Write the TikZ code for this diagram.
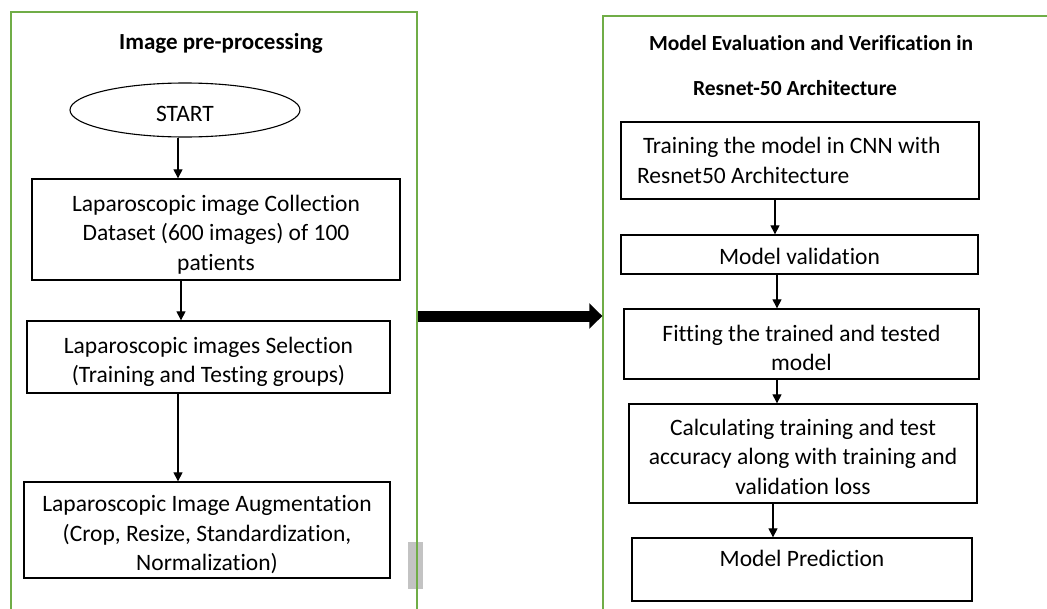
\documentclass[tikz,border=0pt]{standalone}
\usepackage{fontspec}
\setmainfont[Ligatures={NoCommon}]{Carlito}
\usetikzlibrary{arrows.meta,shapes.geometric}
\definecolor{panelgreen}{RGB}{112,173,71}
\definecolor{markgray}{RGB}{195,195,195}
% invisible strut that makes a first line taller, so the text sits a little lower
\newcommand{\dropby}[1]{\rule{0pt}{#1}}
\begin{document}
\begin{tikzpicture}[x=1pt,y=-1pt,
  panel/.style={draw=panelgreen,line width=1.4pt,rectangle,inner sep=0pt},
  titletext/.style={font=\fontsize{21.5}{24}\selectfont\bfseries,inner sep=0pt},
  stepbox/.style={draw=black,line width=1.3pt,rectangle,inner sep=0pt,align=center,
    font=\fontsize{23.5}{29.5}\selectfont},
  startnode/.style={draw=black,line width=1.1pt,ellipse,inner sep=0pt,
    minimum width=230pt,minimum height=54pt,font=\fontsize{23.5}{26}\selectfont},
  arr/.style={draw=black,line width=1.1pt,-{Triangle[width=9pt,length=9pt]}},
  bigarr/.style={draw=black,line width=11pt,-{Triangle[width=25pt,length=13pt]}}
]
\useasboundingbox (0,0) rectangle (1047,608);

% grey marker next to the left panel
\fill[markgray] (408,542) rectangle (423,589);

% the two panels
\node[panel,minimum width=406pt,minimum height=608pt] (leftpanel) at (214,316) {};
\node[panel,minimum width=457pt,minimum height=604pt] (rightpanel) at (831.5,318) {};

% left panel: image pre-processing
\node[titletext,font=\fontsize{23}{26}\selectfont\bfseries] (ltitle) at (221,43) {Image pre-processing};
\node[startnode] (start) at (185,110) {\dropby{23pt}START};
\node[stepbox,minimum width=368pt,minimum height=101pt] (collect) at (216,229.5)
  {\dropby{26pt}Laparoscopic image Collection\\Dataset (600 images) of 100\\patients};
\node[stepbox,minimum width=363pt,minimum height=72pt] (select) at (208.5,357)
  {\dropby{26pt}Laparoscopic images Selection\\(Training and Testing groups)};
\node[stepbox,minimum width=366pt,minimum height=96pt] (augment) at (207,530)
  {\dropby{26pt}Laparoscopic Image Augmentation\\(Crop, Resize, Standardization,\\Normalization)};

\coordinate (xa) at (178,0);
\coordinate (xb) at (181,0);
\draw[arr] (start.south -| xa) -- (collect.north -| xa);
\draw[arr] (collect.south -| xb) -- (select.north -| xb);
\draw[arr] (select.south -| xa) -- (augment.north -| xa);

% right panel: evaluation in ResNet-50
\node[titletext] (rtitle1) at (811,43) {Model Evaluation and Verification in};
\node[titletext] (rtitle2) at (795,88) {Resnet-50 Architecture};
\node[stepbox,minimum width=358pt,minimum height=77pt,align=flush left,text width=326pt]
  (train) at (800,160.5)
  {\hspace{6pt}Training the model in CNN with\\Resnet50 Architecture};
\node[stepbox,minimum width=357pt,minimum height=39pt,text height=24pt,text depth=5pt]
  (valid) at (799.5,254.5) {Model validation};
\node[stepbox,minimum width=355pt,minimum height=70pt] (fit) at (801.5,344)
  {\dropby{24pt}Fitting the trained and tested\\model};
\node[stepbox,minimum width=348pt,minimum height=99pt] (calc) at (803,453.5)
  {\dropby{23pt}Calculating training and test\\accuracy along with training and\\validation loss};
\node[stepbox,minimum width=340pt,minimum height=63pt,text height=17pt,text depth=23pt]
  (predict) at (802,569.5) {Model Prediction};

\coordinate (xc) at (775,0);
\coordinate (xd) at (777,0);
\coordinate (xe) at (773,0);
\draw[arr] (train.south -| xc) -- (valid.north -| xc);
\draw[arr] (valid.south -| xd) -- (fit.north -| xd);
\draw[arr] (fit.south -| xd) -- (calc.north -| xd);
\draw[arr] (calc.south -| xe) -- (predict.north -| xe);

% hand-over between the two stages
\draw[bigarr] (leftpanel.east) -- (leftpanel.east -| rightpanel.west);
\end{tikzpicture}
\end{document}
